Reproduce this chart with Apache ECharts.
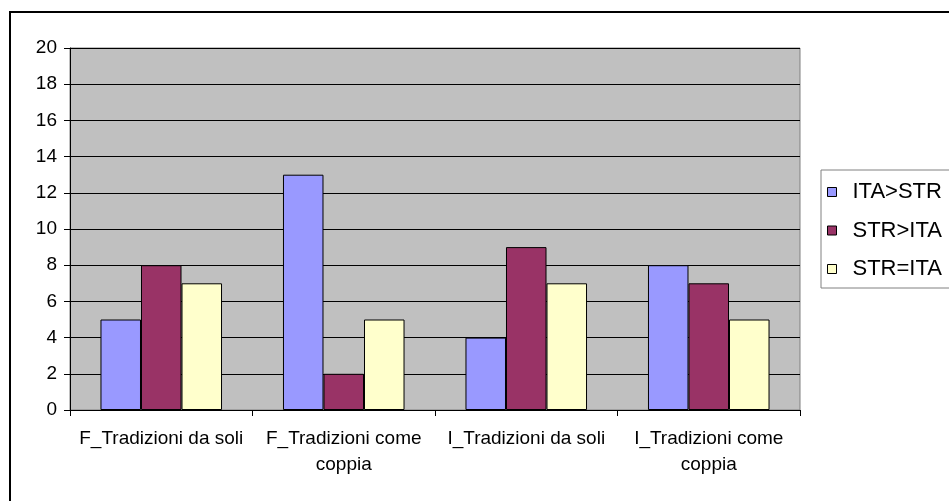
<!DOCTYPE html>
<html>
<head>
<meta charset="utf-8">
<script src="https://cdn.jsdelivr.net/npm/echarts@6/dist/echarts.min.js"></script>
<style>
  html, body { margin: 0; padding: 0; background: #fff; }
  #chart { width: 949px; height: 501px; }
</style>
</head>
<body>
<div id="chart"></div>
<script>
// Categories and series values
const categories = [
  'F_Tradizioni da soli',
  'F_Tradizioni come\ncoppia',
  'I_Tradizioni da soli',
  'I_Tradizioni come\ncoppia'
];
const seriesNames = ['ITA>STR', 'STR>ITA', 'STR=ITA'];
const itaGtStr = [5, 13, 4, 8];
const strGtIta = [8, 2, 9, 7];
const strEqIta = [7, 5, 7, 5];
const seriesValues = [itaGtStr, strGtIta, strEqIta];
const seriesColors = ['#9999FF', '#993366', '#FFFFCC'];

const FONT = "'Liberation Sans', Arial, sans-serif";

const chart = echarts.init(document.getElementById('chart'), null, { renderer: 'canvas' });

chart.setOption({
  animation: false,
  backgroundColor: '#ffffff',
  graphic: [
    {
      // outer chart frame, running off the right and bottom edges
      type: 'rect',
      shape: { x: 10, y: 12, width: 1000, height: 600 },
      style: { fill: 'none', stroke: '#000', lineWidth: 2 },
      z: 0
    }
  ],
  grid: {
    left: 70, right: 149, top: 48, bottom: 91,
    show: true,
    backgroundColor: '#C0C0C0',
    borderColor: '#808080',
    borderWidth: 1
  },
  legend: {
    orient: 'vertical',
    left: 821, top: 170,
    padding: [11, 10, 8, 6],
    itemGap: 16.5,
    itemWidth: 9, itemHeight: 9,
    icon: 'rect',
    backgroundColor: '#ffffff',
    borderColor: '#808080',
    borderWidth: 1,
    borderRadius: 0,
    itemStyle: { borderColor: '#000', borderWidth: 1 },
    textStyle: {
      fontFamily: FONT, fontSize: 22, lineHeight: 22, color: '#000',
      padding: [0, 0, 0, 11]
    },
    data: seriesNames
  },
  xAxis: {
    type: 'category',
    data: categories,
    axisLine: { lineStyle: { color: '#000', width: 1 } },
    axisTick: { show: true, length: 6, lineStyle: { color: '#000' } },
    axisLabel: {
      fontFamily: FONT, fontSize: 19, color: '#000',
      margin: 16, lineHeight: 26, interval: 0
    },
    splitLine: { show: false }
  },
  yAxis: {
    type: 'value',
    min: 0, max: 20, interval: 2,
    axisLine: { show: true, lineStyle: { color: '#000', width: 1 } },
    axisTick: { show: true, length: 6, lineStyle: { color: '#000' } },
    axisLabel: { fontFamily: FONT, fontSize: 19, color: '#000', margin: 13 },
    splitLine: { show: true, lineStyle: { color: '#000', width: 1 } }
  },
  series: seriesNames.map((name, i) => ({
    name: name,
    type: 'bar',
    data: seriesValues[i],
    barGap: '0%',
    barCategoryGap: '33.4%',
    itemStyle: { color: seriesColors[i], borderColor: '#000', borderWidth: 1 }
  }))
});
</script>
</body>
</html>
